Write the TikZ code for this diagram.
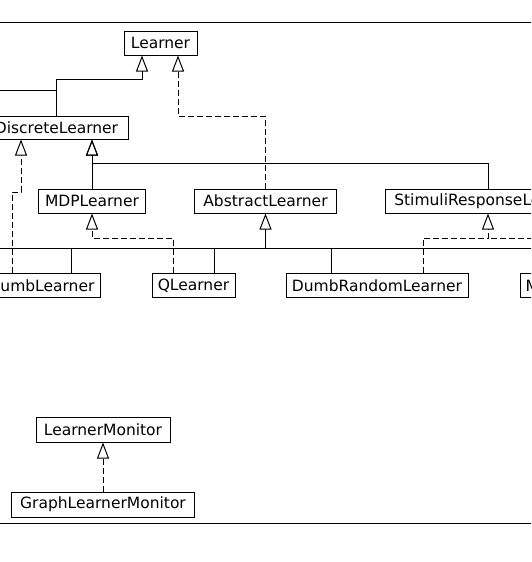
\documentclass[tikz,border=0pt]{standalone}
\usepackage{fontspec}
\setmainfont{DejaVu Sans}
\usetikzlibrary{arrows.meta, positioning}
\tikzset{
  uml_cls/.style = {draw, rectangle, inner sep=0pt, minimum height=24pt,
    font=\fontsize{15.5}{18}\selectfont, line width=1pt},% classe
  uml_ext/.style = {line width=1pt,
    -{Triangle[open, length=16pt, width=12pt]}},% heritage
  uml_imp/.style = {uml_ext, dash pattern=on 6pt off 3pt}% realisation
}

\begin{document}
\begin{tikzpicture}[x=1pt, y=-1pt]
\useasboundingbox (0,0) rectangle (531,562);
\clip (0,0) rectangle (531,562);
\draw[line width=1pt] (-10,22) -- (541,22);
\draw[line width=1pt] (-10,523.5) -- (541,523.5);

\node (learner) [uml_cls, minimum width=73pt] at (160.5,43) {Learner};
\node (discrete) [uml_cls, minimum width=143pt, minimum height=23pt]
  at (56.5,127.5) {DiscreteLearner};
\node (mdp) [uml_cls, minimum width=107pt] at (92,201) {MDPLearner};
\node (abstract) [uml_cls, minimum width=142pt] at (265.5,201) {AbstractLearner};
\node (stimuli) [uml_cls, minimum width=206pt] at (488,201) {StimuliResponseLearner};
\node (dumb) [uml_cls, minimum width=117pt] at (41.5,285.5) {DumbLearner};
\node (qlearn) [uml_cls, minimum width=83pt] at (193.5,285.5) {QLearner};
\node (drandom) [uml_cls, minimum width=182pt] at (377,285.5) {DumbRandomLearner};
\node (mnode) [uml_cls, anchor=west, text width=80pt, inner xsep=5pt,
  align=left] at (520,285.5) {M};
\node (monitor) [uml_cls, minimum width=134pt, minimum height=25pt]
  at (103,429.5) {LearnerMonitor};
\node (graphmon) [uml_cls, minimum width=183pt, minimum height=25pt,
  below=49pt of monitor] {GraphLearnerMonitor};

% Learner
\coordinate (offleft) at (-20,90);
\draw[uml_ext] (discrete.north) -- ++(0,-36) -| ([xshift=-18.5pt]learner.south);
\draw[line width=1pt] (offleft) -- (offleft -| discrete.north);
\draw[uml_imp] (abstract.north) -- ++(0,-72) -| ([xshift=17.5pt]learner.south);
% DiscreteLearner
\draw[uml_ext] (mdp.north) -- ([xshift=35.5pt]discrete.south);
\draw[uml_ext] (stimuli.north) -- ++(0,-25) -| ([xshift=35.5pt]discrete.south);
\draw[uml_imp] ([xshift=-29.5pt]dumb.north) -- ++(0,-81)
  -| ([xshift=-35.5pt]discrete.south);
% AbstractLearner
\coordinate (busleft) at (-20,248);
\coordinate (busright) at (560,248);
\draw[line width=1pt] (busleft) -- (busright);
\draw[uml_ext] (abstract.south |- busleft) -- (abstract.south);
\foreach \n/\dx in {dumb/29.5, qlearn/20.5, drandom/-46}
  \draw[line width=1pt] ([xshift=\dx pt]\n.north)
    -- ([xshift=\dx pt]\n.north |- busleft);
% MDPLearner, StimuliResponseLearner
\draw[uml_imp] ([xshift=-20.5pt]qlearn.north) -- ++(0,-35) -| (mdp.south);
\draw[uml_imp] ([xshift=46pt]drandom.north) -- ++(0,-35) -| (stimuli.south);
\coordinate (offright) at (560,238);
\draw[line width=1pt, dash pattern=on 6pt off 3pt]
  (offright) -- (offright -| stimuli.south);
% LearnerMonitor
\draw[uml_imp] (graphmon.north) -- (monitor.south);
\end{tikzpicture}
\end{document}
